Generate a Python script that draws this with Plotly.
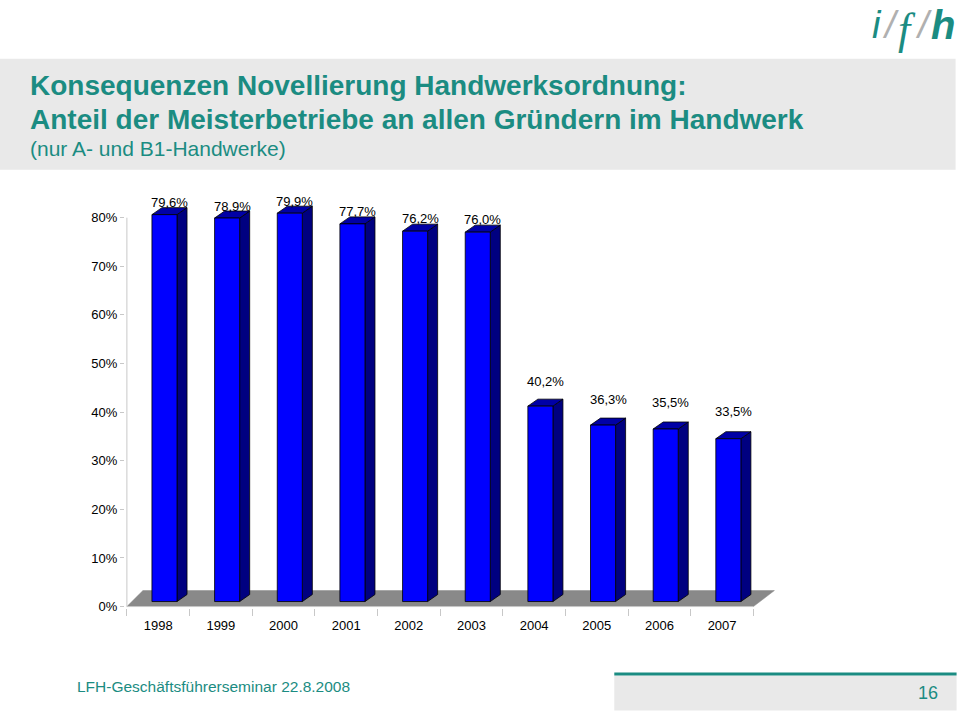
import plotly.graph_objects as go

# ---------------- data ----------------
years = ["1998", "1999", "2000", "2001", "2002", "2003", "2004", "2005", "2006", "2007"]
shares = [79.6, 78.9, 79.9, 77.7, 76.2, 76.0, 40.2, 36.3, 35.5, 33.5]
value_labels = ["79,6%", "78,9%", "79,9%", "77,7%", "76,2%", "76,0%", "40,2%", "36,3%", "35,5%", "33,5%"]
y_ticks = [0, 10, 20, 30, 40, 50, 60, 70, 80]
y_tick_labels = ["0%", "10%", "20%", "30%", "40%", "50%", "60%", "70%", "80%"]

title_line1 = "Konsequenzen Novellierung Handwerksordnung:"
title_line2 = "Anteil der Meisterbetriebe an allen Gründern im Handwerk"
subtitle = "(nur A- und B1-Handwerke)"
footer = "LFH-Geschäftsführerseminar 22.8.2008"
page_no = "16"

# ---------------- style / geometry ----------------
W, H = 960, 711
TEAL = "#1b8c82"
FONT = "Arial, 'Liberation Sans', sans-serif"
C_FRONT, C_TOP, C_SIDE = "#0000ff", "#0000a6", "#000080"

X_RANGE = [-0.53, 10.1]
Y_RANGE = [-0.3, 85.7]
PPU_X, PPU_Y = 62.6, 4.8625
L = 127 - (-0.5 - X_RANGE[0]) * PPU_X
PLOT_W = (X_RANGE[1] - X_RANGE[0]) * PPU_X
R = W - L - PLOT_W
Y_BOTTOM = 607 + (0 - Y_RANGE[0]) * PPU_Y
PLOT_H = (Y_RANGE[1] - Y_RANGE[0]) * PPU_Y
B = H - Y_BOTTOM
T = Y_BOTTOM - PLOT_H


def pxx(px):
    return (px - L) / PLOT_W


def pxy(py):
    return (Y_BOTTOM - py) / PLOT_H


BAR_W = 0.4          # front face width (category units)
BAR_OFF = -0.1       # front-left offset from category center
BAR_BASE = 1.03      # bars sit slightly back on the floor
DEP_X, DEP_Y = 0.16, 1.44   # 3D depth of bars
FL_DXL, FL_DXR, FL_DY = 0.256, 0.335, 3.29  # floor depth

fig = go.Figure()

# floor
fig.add_trace(go.Scatter(
    x=[-0.5, -0.5 + FL_DXL, len(years) - 0.5 + FL_DXR, len(years) - 0.5, -0.5],
    y=[0, FL_DY, FL_DY, 0, 0],
    fill="toself", fillcolor="#898989", mode="lines",
    line=dict(color="#898989", width=0.5), hoverinfo="skip", showlegend=False))

# x axis line & y axis line
fig.add_trace(go.Scatter(x=[-0.5, len(years) - 0.5], y=[0, 0], mode="lines",
                         line=dict(color="#c8c8c8", width=1), hoverinfo="skip", showlegend=False))
fig.add_trace(go.Scatter(x=[-0.5, -0.5], y=[0, y_ticks[-1]], mode="lines",
                         line=dict(color="#c8c8c8", width=1), hoverinfo="skip", showlegend=False))

for i, v in enumerate(shares):
    x0 = i + BAR_OFF
    x1 = x0 + BAR_W
    y0 = BAR_BASE
    y1 = BAR_BASE + v
    edge = dict(color="#000000", width=0.8)
    # side
    fig.add_trace(go.Scatter(
        x=[x1, x1 + DEP_X, x1 + DEP_X, x1, x1],
        y=[y0, y0 + DEP_Y, y1 + DEP_Y, y1, y0],
        fill="toself", fillcolor=C_SIDE, mode="lines", line=edge,
        hoverinfo="skip", showlegend=False))
    # top
    fig.add_trace(go.Scatter(
        x=[x0, x0 + DEP_X, x1 + DEP_X, x1, x0],
        y=[y1, y1 + DEP_Y, y1 + DEP_Y, y1, y1],
        fill="toself", fillcolor=C_TOP, mode="lines", line=edge,
        hoverinfo="skip", showlegend=False))
    # front
    fig.add_trace(go.Scatter(
        x=[x0, x1, x1, x0, x0],
        y=[y0, y0, y1, y1, y0],
        fill="toself", fillcolor=C_FRONT, mode="lines", line=edge,
        hoverinfo="text", text=f"{years[i]}: {value_labels[i]}", showlegend=False))
    # value label
    fig.add_annotation(x=i + 0.18, y=8.84 + 0.932 * v, xref="x", yref="y",
                       text=value_labels[i], showarrow=False,
                       xanchor="center", yanchor="middle",
                       font=dict(family=FONT, size=13, color="#000000"))

fig.update_xaxes(
    range=X_RANGE, showgrid=False, zeroline=False, showline=False,
    tickmode="array", tickvals=list(range(len(years))), ticktext=years,
    ticks="", ticklabelstandoff=8, tickfont=dict(family=FONT, size=13, color="#000000"),
    minor=dict(tick0=-0.5, dtick=1, ticks="outside", ticklen=7, tickcolor="#c8c8c8", tickwidth=1),
    fixedrange=True)
fig.update_yaxes(
    range=Y_RANGE, showgrid=False, zeroline=False, showline=False,
    tickmode="array", tickvals=y_ticks, ticktext=y_tick_labels,
    ticks="outside", ticklen=4, tickcolor="#c8c8c8", tickwidth=1,
    tickfont=dict(family=FONT, size=13, color="#000000"), fixedrange=True)

shapes = []
# title band
shapes.append(dict(type="rect", xref="paper", yref="paper",
                   x0=pxx(0), x1=pxx(955), y0=pxy(170), y1=pxy(59),
                   fillcolor="#e9e9e9", line=dict(width=0), layer="below"))
# footer band
shapes.append(dict(type="rect", xref="paper", yref="paper",
                   x0=pxx(614), x1=pxx(956), y0=pxy(711), y1=pxy(676),
                   fillcolor="#e9e9e9", line=dict(width=0), layer="below"))
shapes.append(dict(type="line", xref="paper", yref="paper",
                   x0=pxx(614), x1=pxx(956), y0=pxy(674.5), y1=pxy(674.5),
                   line=dict(color=TEAL, width=3)))
fig.update_layout(shapes=shapes)

ann = [
    (28, 86, title_line1, 28, True),
    (28, 120, title_line2, 28, True),
    (28, 149, subtitle, 21, False),
]
for x, y, t, s, b in ann:
    fig.add_annotation(x=pxx(x), y=pxy(y), xref="paper", yref="paper",
                       text=f"<b>{t}</b>" if b else t, showarrow=False,
                       xanchor="left", yanchor="middle",
                       font=dict(family=FONT, size=s, color=TEAL))

fig.add_annotation(x=pxx(75), y=pxy(687), xref="paper", yref="paper", text=footer,
                   showarrow=False, xanchor="left", yanchor="middle",
                   font=dict(family=FONT, size=15.5, color=TEAL))
fig.add_annotation(x=pxx(939), y=pxy(693), xref="paper", yref="paper", text=page_no,
                   showarrow=False, xanchor="right", yanchor="middle",
                   font=dict(family=FONT, size=18, color=TEAL))

# logo i / f / h
logo = [
    (876, 25, "<i>i</i>", "'Liberation Sans', Arial", 38, TEAL),
    (890, 25, "<i>/</i>", "'Liberation Sans', Arial", 38, "#b0b0b0"),
    (906, 30, "<i>f</i>", "'Liberation Serif', serif", 44, TEAL),
    (923, 25, "<i>/</i>", "'Liberation Sans', Arial", 38, "#b0b0b0"),
    (942, 25, "<b><i>h</i></b>", "'Liberation Sans', Arial", 40, TEAL),
]
for x, y, t, f, s, c in logo:
    fig.add_annotation(x=pxx(x), y=pxy(y), xref="paper", yref="paper", text=t,
                       showarrow=False, xanchor="center", yanchor="middle",
                       font=dict(family=f, size=s, color=c))

fig.update_layout(
    width=W, height=H, autosize=False,
    margin=dict(l=L, r=R, t=T, b=B, pad=0),
    plot_bgcolor="#ffffff", paper_bgcolor="#ffffff",
    showlegend=False,
)

fig.write_html("out.html", config={"displayModeBar": False},
               post_script="document.body.style.margin='0';document.body.style.overflow='hidden';")
